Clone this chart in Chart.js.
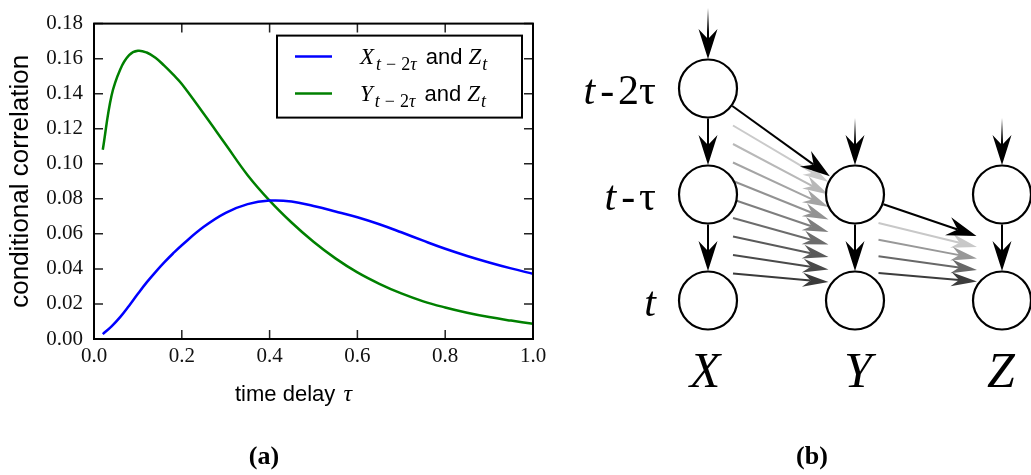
<!DOCTYPE html>
<html>
<head>
<meta charset="utf-8">
<script src="https://cdn.jsdelivr.net/npm/chart.js@4.4.0/dist/chart.umd.min.js"></script>
<style>
  body { margin: 0; background: #fff; }
  #plot { position: absolute; left: 0; top: 0; }
  #graph { position: absolute; left: 560px; top: 0; }
</style>
</head>
<body>
<canvas id="plot" width="560" height="475"></canvas>
<canvas id="graph" width="471" height="475"></canvas>
<script>
// time delay tau and the conditional correlation of each lagged source with Z_t
const tau = [0.02, 0.04, 0.06, 0.08, 0.10, 0.12, 0.14, 0.16, 0.18, 0.20, 0.25, 0.30, 0.35,
             0.40, 0.45, 0.50, 0.55, 0.60, 0.65, 0.70, 0.75, 0.80, 0.85, 0.90, 0.95, 1.00];
const corrXZ = [0.0028, 0.0072, 0.0126, 0.0190, 0.0258, 0.0323, 0.0382, 0.0437, 0.0488, 0.0535, 0.0640, 0.0720, 0.0770,
                0.0790, 0.0785, 0.0759, 0.0728, 0.0695, 0.0655, 0.0609, 0.0561, 0.0515, 0.0474, 0.0437, 0.0403, 0.0372];
const corrYZ = [0.108, 0.139, 0.154, 0.162, 0.1645, 0.1635, 0.1605, 0.156, 0.151, 0.1455, 0.1285, 0.1110, 0.0935,
                0.0790, 0.0665, 0.0555, 0.0460, 0.0380, 0.0315, 0.0260, 0.0215, 0.0180, 0.0150, 0.0125, 0.0105, 0.0087];

const xStep = 0.2, xMax = 1.0;
const yStep = 0.02, yMax = 0.18;

// legend entries: source variable, its lag subscript, target
const sourceNames = ['X', 'Y'];

// graph (b): variables as columns, lags as rows
const variables = ['X', 'Y', 'Z'];
const lagLabels = [[['t', true]], [['t', true], ['-\u03c4', false]], [['t', true], ['-2\u03c4', false]]];
const nodes = [
  { col: 0, row: 2 }, { col: 0, row: 1 }, { col: 0, row: 0 },
  { col: 1, row: 1 }, { col: 1, row: 0 },
  { col: 2, row: 1 }, { col: 2, row: 0 }
];
const fanXY = ['#cacaca', '#b8b8b8', '#a4a4a4', '#929292', '#7e7e7e', '#6c6c6c', '#5a5a5a', '#4a4a4a', '#3a3a3a'];
const fanYZ = ['#c8c8c8', '#989898', '#686868', '#3c3c3c'];

const serif = '"Liberation Serif", "Times New Roman", serif';
const sans = '"Liberation Sans", Arial, sans-serif';

function drawRuns(ctx, x, y, runs) {
  runs.forEach(r => {
    ctx.font = r.font;
    ctx.fillText(r.t, x, y + (r.dy || 0));
    x += ctx.measureText(r.t).width + (r.gap || 0);
  });
  return x;
}
function runsWidth(ctx, runs) {
  let w = 0;
  runs.forEach(r => { ctx.font = r.font; w += ctx.measureText(r.t).width + (r.gap || 0); });
  return w;
}

const plotDecor = {
  id: 'plotDecor',
  afterDraw(chart) {
    const { ctx, chartArea: a, scales: { x, y } } = chart;
    ctx.save();
    // ticks point inwards on every side
    ctx.strokeStyle = '#222';
    ctx.lineWidth = 1.5;
    ctx.beginPath();
    x.ticks.forEach(t => {
      const px = x.getPixelForValue(t.value);
      ctx.moveTo(px, a.bottom); ctx.lineTo(px, a.bottom - 9);
      ctx.moveTo(px, a.top); ctx.lineTo(px, a.top + 9);
    });
    y.ticks.forEach(t => {
      const py = y.getPixelForValue(t.value);
      ctx.moveTo(a.left, py); ctx.lineTo(a.left + 9, py);
      ctx.moveTo(a.right, py); ctx.lineTo(a.right - 9, py);
    });
    ctx.stroke();
    ctx.strokeStyle = '#000';
    ctx.lineWidth = 2;
    ctx.strokeRect(a.left, a.top, a.right - a.left, a.bottom - a.top);

    // legend box
    const bx = a.right - 256, by = a.top + 12, bw = 245, bh = 82;
    ctx.fillStyle = '#fff';
    ctx.fillRect(bx, by, bw, bh);
    ctx.strokeRect(bx, by, bw, bh);
    chart.data.datasets.forEach((ds, i) => {
      const ly = by + 21 + i * 37;
      ctx.strokeStyle = ds.borderColor;
      ctx.lineWidth = 2.5;
      ctx.beginPath();
      ctx.moveTo(bx + 18, ly); ctx.lineTo(bx + 55, ly);
      ctx.stroke();
      ctx.fillStyle = '#000';
      ctx.textBaseline = 'alphabetic';
      const sub = 'italic 18px ' + serif;
      drawRuns(ctx, bx + 83, ly + 7, [
        { t: sourceNames[i], font: 'italic 23px ' + serif, gap: 2 },
        { t: 't', font: sub, dy: 6, gap: 5 },
        { t: '\u2212', font: '18px ' + serif, dy: 6, gap: 5 },
        { t: '2', font: '18px ' + serif, dy: 6 },
        { t: '\u03c4', font: sub, dy: 6, gap: 3 },
        { t: ' and ', font: '22px ' + sans },
        { t: 'Z', font: 'italic 23px ' + serif, gap: 1 },
        { t: 't', font: sub, dy: 6 }
      ]);
    });

    // axis titles and panel caption
    ctx.fillStyle = '#000';
    ctx.save();
    ctx.translate(28, (a.top + a.bottom) / 2);
    ctx.rotate(-Math.PI / 2);
    ctx.font = '26px ' + sans;
    ctx.textAlign = 'center';
    ctx.fillText('conditional correlation', 0, 0);
    ctx.restore();
    drawRuns(ctx, 235, 401, [
      { t: 'time delay ', font: '22px ' + sans, gap: 2 },
      { t: '\u03c4', font: 'italic 24px ' + serif }
    ]);
    ctx.font = 'bold 26px ' + serif;
    ctx.textAlign = 'center';
    ctx.fillText('(a)', 264, 464);
    ctx.restore();
  }
};

new Chart(document.getElementById('plot'), {
  type: 'line',
  data: {
    datasets: [
      { label: 'X', data: tau.map((t, i) => ({ x: t, y: corrXZ[i] })), borderColor: '#0000ff' },
      { label: 'Y', data: tau.map((t, i) => ({ x: t, y: corrYZ[i] })), borderColor: '#008000' }
    ]
  },
  options: {
    responsive: false,
    animation: false,
    layout: { padding: { top: 13, right: 27, bottom: 92, left: 0 } },
    elements: {
      point: { radius: 0 },
      line: { borderWidth: 2.5, tension: 0.4 }
    },
    plugins: { legend: { display: false }, tooltip: { enabled: false } },
    scales: {
      x: {
        type: 'linear', min: 0, max: xMax,
        afterFit(s) { s.height = 44; },
        grid: { display: false, drawTicks: false },
        border: { display: false },
        ticks: {
          stepSize: xStep, padding: 5, color: '#111', maxRotation: 0,
          font: { family: serif, size: 21 },
          callback: v => v.toFixed(1)
        }
      },
      y: {
        min: 0, max: yMax,
        afterFit(s) { s.width = 94; },
        grid: { display: false, drawTicks: false },
        border: { display: false },
        ticks: {
          stepSize: yStep, padding: 11, color: '#111',
          font: { family: serif, size: 21 },
          callback: v => v.toFixed(2)
        }
      }
    }
  },
  plugins: [plotDecor]
});

// graph (b)
const blackHead = { L: 30, W: 9.5, inset: 10, lw: 2 };
const grayHead = { L: 26, W: 7, inset: 8, lw: 2 };

function arrow(ctx, x0, y0, x1, y1, stroke, fill, head) {
  const dx = x1 - x0, dy = y1 - y0, len = Math.hypot(dx, dy);
  const ux = dx / len, uy = dy / len, nx = -uy, ny = ux;
  const bx = x1 - ux * (head.L - head.inset), by = y1 - uy * (head.L - head.inset);
  ctx.strokeStyle = stroke;
  ctx.lineWidth = head.lw;
  ctx.beginPath();
  ctx.moveTo(x0, y0); ctx.lineTo(bx, by);
  ctx.stroke();
  ctx.fillStyle = fill;
  ctx.beginPath();
  ctx.moveTo(x1, y1);
  ctx.lineTo(x1 - ux * head.L + nx * head.W, y1 - uy * head.L + ny * head.W);
  ctx.lineTo(bx, by);
  ctx.lineTo(x1 - ux * head.L - nx * head.W, y1 - uy * head.L - ny * head.W);
  ctx.closePath();
  ctx.fill();
}

const graphDecor = {
  id: 'graphDecor',
  beforeDatasetsDraw(chart) {
    const { ctx, scales: { x, y } } = chart;
    const px = c => x.getPixelForValue(c), py = r => y.getPixelForValue(r);
    const r = 30;
    ctx.save();
    // incoming arrows from outside the window, fading in
    [[0, 2, 8], [1, 1, 118], [2, 1, 118]].forEach(([c, row, top]) => {
      const g = ctx.createLinearGradient(0, top, 0, top + 24);
      g.addColorStop(0, '#ffffff');
      g.addColorStop(1, '#000000');
      arrow(ctx, px(c), top, px(c), py(row) - r + 0.5, g, '#000', blackHead);
    });
    // autodependence down each column
    [[0, 2], [0, 1], [1, 1], [2, 1]].forEach(([c, row]) => {
      arrow(ctx, px(c), py(row) + r, px(c), py(row - 1) - r + 0.5, '#000', '#000', blackHead);
    });
    // lagged X -> Y links
    fanXY.forEach((col, i) => {
      const f = i / (fanXY.length - 1);
      const y0 = py(2) + 37 + f * (py(0) - 27 - (py(2) + 37));
      const y1 = py(1) - 12.5 + f * (py(0) - 18.5 - (py(1) - 12.5));
      arrow(ctx, px(0) + 25, y0, px(1) - 26.5, y1, col, col, grayHead);
    });
    // lagged Y -> Z links
    fanYZ.forEach((col, i) => {
      const f = i / (fanYZ.length - 1);
      const y0 = py(1) + 28.5 + f * (py(0) - 27.5 - (py(1) + 28.5));
      const y1 = py(1) + 52.5 + f * (py(0) - 19 - (py(1) + 52.5));
      arrow(ctx, px(1) + 23.5, y0, px(2) - 25, y1, col, col, grayHead);
    });
    // direct black links
    const link = (c0, r0, tx, ty) => {
      const dx = tx - px(c0), dy = ty - py(r0), d = Math.hypot(dx, dy);
      arrow(ctx, px(c0) + dx / d * r, py(r0) + dy / d * r, tx, ty, '#000', '#000', blackHead);
    };
    const dxy = Math.hypot(px(1) - px(0), py(1) - py(2));
    link(0, 2, px(1) - (px(1) - px(0)) / dxy * (r + 1), py(1) - (py(1) - py(2)) / dxy * (r + 1));
    link(1, 1, px(2) - 25.5, py(1) + 41.5);
    ctx.restore();
  },
  afterDraw(chart) {
    const { ctx, scales: { x, y } } = chart;
    const px = c => x.getPixelForValue(c), py = r => y.getPixelForValue(r);
    ctx.save();
    ctx.fillStyle = '#000';
    ctx.textBaseline = 'alphabetic';
    lagLabels.forEach((parts, row) => {
      const runs = [];
      parts.forEach(([t, it]) => {
        if (it) {
          runs.push({ t, font: 'italic 42px ' + serif, gap: parts.length > 1 ? 5 : 0 });
        } else {
          runs.push({ t: t[0], font: '42px ' + serif, gap: 4 });
          runs.push({ t: t.slice(1), font: '42px ' + serif });
        }
      });
      const w = runsWidth(ctx, runs);
      drawRuns(ctx, 96 - w, py(row) + 15, runs);
    });
    ctx.font = 'italic 50px ' + serif;
    ctx.textAlign = 'center';
    const nudge = [-3, 3, -1];
    variables.forEach((v, c) => ctx.fillText(v, px(c) + nudge[c], 387));
    ctx.font = 'bold 26px ' + serif;
    ctx.fillText('(b)', 252, 464);
    ctx.restore();
  }
};

new Chart(document.getElementById('graph'), {
  type: 'scatter',
  data: {
    datasets: [{
      data: nodes.map(n => ({ x: n.col, y: n.row })),
      pointRadius: 29,
      pointHoverRadius: 29,
      pointBackgroundColor: '#fff',
      pointBorderColor: '#000',
      pointBorderWidth: 2.2,
      clip: false
    }]
  },
  options: {
    responsive: false,
    animation: false,
    events: [],
    layout: { autoPadding: false, padding: { left: 148, right: 29, top: 88.5, bottom: 174.5 } },
    scales: {
      x: { display: false, min: 0, max: 2 },
      y: { display: false, min: 0, max: 2 }
    },
    plugins: { legend: { display: false }, tooltip: { enabled: false } }
  },
  plugins: [graphDecor]
});
</script>
</body>
</html>
